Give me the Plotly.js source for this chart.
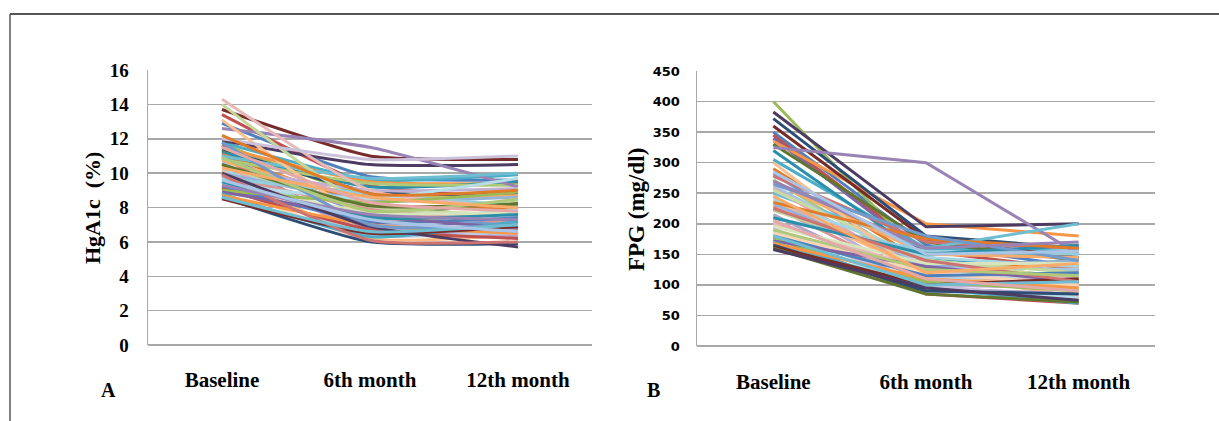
<!DOCTYPE html>
<html>
<head>
<meta charset="utf-8">
<script src="https://cdn.plot.ly/plotly-3.0.1.min.js"></script>
<style>
html,body{margin:0;padding:0;background:#fff;}
#chart{width:1219px;height:421px;}
</style>
</head>
<body>
<div id="chart"></div>
<script>
// Categories
const categories = ["Baseline", "6th month", "12th month"];

// Panel A: HgA1c (%) per patient
const hba1cBaseline = [12.9,13.4,11.7,11.6,11.8,11.5,11.4,13.7,11.3,11.9,11.2,11.1,11.0,10.9,10.8,12.6,11.0,10.7,10.6,10.5,10.4,10.3,10.2,10.1,10.0,9.9,14.0,9.8,9.7,13.1,9.6,14.3,9.5,12.0,9.4,9.3,9.2,9.1,9.0,8.9,8.8,8.7,8.6,8.5,10.5,10.0,9.5,12.2,11.8,9.9,10.9,9.3,8.6,10.3,9.6,11.5];
const hba1c6m       = [9.8,9.3,8.7,7.1,9.6,9.5,8.9,11.0,7.8,10.5,9.2,8.2,7.6,6.8,9.4,11.5,9.7,8.6,7.0,6.6,8.0,9.0,7.3,6.2,8.4,7.9,8.1,6.9,8.8,7.4,6.4,9.0,7.7,10.8,8.5,6.1,7.2,6.7,8.3,7.5,6.3,7.0,6.0,6.5,8.1,6.9,7.4,8.8,7.0,6.1,7.8,7.6,6.6,8.6,7.3,8.3];
const hba1c12m      = [9.6,8.6,9.0,7.3,9.9,9.4,8.8,10.8,8.3,10.5,9.5,8.0,7.0,6.9,9.3,9.2,10.0,8.7,7.5,6.7,7.6,9.1,7.9,6.4,8.6,7.1,8.4,6.3,8.1,7.8,6.6,8.0,7.7,11.0,9.7,6.0,7.4,6.2,8.9,6.8,7.2,6.5,5.9,6.9,8.2,5.7,7.6,9.0,7.0,6.0,8.5,7.3,7.0,8.0,6.6,7.8];

// Panel B: FPG (mg/dl) per patient
const fpgBaseline = [350,345,400,340,305,335,372,360,330,383,320,290,282,278,272,325,250,268,262,258,255,245,240,236,232,228,222,215,210,300,205,200,196,192,188,185,180,178,175,172,170,168,165,162,160,158,210,235,265,225,190,270,180,245,285,205];
const fpg6m       = [165,155,140,150,160,200,180,175,170,195,145,135,125,170,120,300,160,150,130,115,140,100,145,120,130,105,140,95,155,110,110,125,135,100,90,120,115,85,105,130,95,110,90,100,85,95,150,175,180,140,125,160,100,120,150,110];
const fpg12m      = [130,125,110,165,155,180,160,145,140,200,120,130,115,160,90,150,200,145,125,105,110,95,130,80,140,100,120,85,150,100,115,110,135,75,80,100,120,70,90,105,70,95,85,110,72,75,165,160,140,105,115,170,105,135,155,90];

// Tick values
const hba1cTicks = [0,2,4,6,8,10,12,14,16];
const fpgTicks = [0,50,100,150,200,250,300,350,400,450];

// Excel-like series colour cycle
const palette = ['#4F81BD','#C0504D','#9BBB59','#8064A2','#4BACC6','#F79646',
 '#2C4D75','#772C2A','#5F7530','#4D3B62','#2C8FAA','#E07B2A',
 '#729ACA','#CD7371','#AFC97A','#9983B5','#6FBDD1','#F9AB6B',
 '#A9C4E4','#E3A9A8','#C9DBA5','#BFB0D4','#A6D6E3','#FBB987',
 '#95B3D7','#D99694','#C3D69B','#B3A2C7','#93CDDD','#FAC090',
 '#B9CDE5','#E6B9B8','#D7E4BD','#CCC1DA','#B7DEE8','#FCD5B5'];

const traces = [];
hba1cBaseline.forEach((b, i) => {
  traces.push({
    type: 'scatter', mode: 'lines', x: categories,
    y: [b, hba1c6m[i], hba1c12m[i]],
    xaxis: 'x', yaxis: 'y',
    line: {color: palette[i % palette.length], width: 3, shape: 'spline', smoothing: 0.5},
    hoverinfo: 'skip'
  });
});
fpgBaseline.forEach((b, i) => {
  traces.push({
    type: 'scatter', mode: 'lines', x: categories,
    y: [b, fpg6m[i], fpg12m[i]],
    xaxis: 'x2', yaxis: 'y2',
    line: {color: palette[i % palette.length], width: 3},
    hoverinfo: 'skip'
  });
});

const serif = 'Liberation Serif, Times New Roman, serif';
const serifBold = {family: serif, size: 21, color: '#000', weight: 700};
const gridC = '#a8a8a8';

const layout = {
  width: 1219, height: 421,
  margin: {l: 0, r: 0, t: 0, b: 0},
  paper_bgcolor: '#fff', plot_bgcolor: 'rgba(0,0,0,0)',
  showlegend: false,
  xaxis: {
    domain: [148/1219, 592/1219], type: 'category', range: [-0.5, 2.5],
    showgrid: false, showline: false, zeroline: false, ticks: '',
    tickfont: serifBold, ticklabelstandoff: 20, fixedrange: true
  },
  yaxis: {
    domain: [(421-345)/421, (421-70)/421], range: [0, 16],
    tickvals: hba1cTicks, showgrid: true, gridcolor: gridC, gridwidth: 1.5,
    showline: true, linecolor: gridC, linewidth: 1.5,
    zeroline: true, zerolinecolor: gridC, zerolinewidth: 1.5, ticks: '',
    tickfont: {family: serif, size: 19, color: '#000', weight: 700},
    ticklabelstandoff: 14, fixedrange: true
  },
  xaxis2: {
    domain: [697/1219, 1155/1219], type: 'category', range: [-0.5, 2.5], anchor: 'y2',
    showgrid: false, showline: false, zeroline: false, ticks: '',
    tickfont: serifBold, ticklabelstandoff: 21, fixedrange: true
  },
  yaxis2: {
    domain: [(421-346)/421, (421-71)/421], range: [0, 450], anchor: 'x2',
    tickvals: fpgTicks, showgrid: true, gridcolor: gridC, gridwidth: 1.5,
    showline: true, linecolor: gridC, linewidth: 1.5,
    zeroline: true, zerolinecolor: gridC, zerolinewidth: 1.5, ticks: '',
    tickfont: {family: 'DejaVu Sans, sans-serif', size: 13, color: '#000', weight: 700},
    ticklabelstandoff: 13, fixedrange: true
  },
  annotations: [
    {xref: 'paper', yref: 'paper', x: 92/1219, y: (421-208)/421, text: 'HgA1c&nbsp; (%)',
     textangle: -90, showarrow: false, xanchor: 'center', yanchor: 'middle',
     font: {family: serif, size: 22, color: '#000', weight: 700}},
    {xref: 'paper', yref: 'paper', x: 636/1219, y: (421-210)/421, text: 'FPG (mg/dl)',
     textangle: -90, showarrow: false, xanchor: 'center', yanchor: 'middle',
     font: {family: serif, size: 23, color: '#000', weight: 700}},
    {xref: 'paper', yref: 'paper', x: 108/1219, y: (421-390)/421, text: 'A',
     showarrow: false, xanchor: 'center', yanchor: 'middle',
     font: {family: serif, size: 20, color: '#000', weight: 700}},
    {xref: 'paper', yref: 'paper', x: 654/1219, y: (421-390)/421, text: 'B',
     showarrow: false, xanchor: 'center', yanchor: 'middle',
     font: {family: serif, size: 20, color: '#000', weight: 700}}
  ],
  shapes: [
    {type: 'line', xref: 'paper', yref: 'paper', x0: 10/1219, x1: 1, y0: 1-14/421, y1: 1-14/421,
     line: {color: '#555', width: 2}},
    {type: 'line', xref: 'paper', yref: 'paper', x0: 10/1219, x1: 10/1219, y0: 0, y1: 1-14/421,
     line: {color: '#555', width: 1.5}}
  ]
};

Plotly.newPlot('chart', traces, layout, {displayModeBar: false, staticPlot: true});
</script>
</body>
</html>
